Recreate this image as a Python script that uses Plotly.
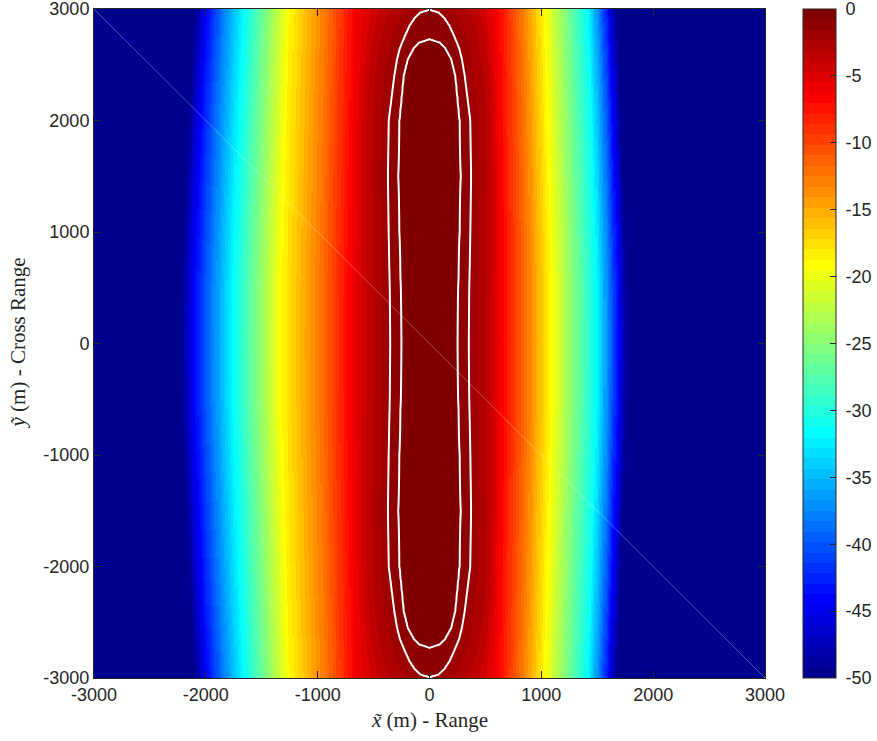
import numpy as np
import plotly.graph_objects as go

# ---------------- data ----------------
# peak level at x = 0 versus cross range |y| (m, symmetric in y)
peak_y = [0, 2600, 2730, 2995, 3000]
peak_db = [0.0, 0.0, -0.78125, -1.5625, -1.6]
# half widths (m) of the two near-centre levels (the white contours)
inner_level = -0.78125
inner_y = [0, 500, 1000, 1500, 2000, 2400, 2550, 2650, 2700, 2730]
inner_w = [252, 258, 270, 280, 270, 232, 195, 140, 90, 0]
outer_level = -1.5625
outer_y = [0, 500, 1000, 1500, 2000, 2400, 2550, 2650, 2700, 2750, 2850, 2925, 2975, 2995]
outer_w = [352, 356, 366, 372, 365, 315, 290, 265, 245, 225, 180, 130, 75, 0]
# half width (m) of the -3.5 dB level
mid_level = -3.5
mid_y = [0, 1000, 1500, 2000, 2400, 2700, 3000]
mid_w = [530, 540, 545, 540, 525, 490, 420]
# far levels: crossing distance (m) at y = 0, left (negative x) and right side
far_levels = [-6.25, -12.5, -18.75, -25, -31.25, -37.5, -43.75, -50]
left_far = [700, 985, 1320, 1530, 1745, 1935, 2100, 2230]
right_far = [640, 880, 1080, 1280, 1490, 1600, 1690, 1775]
# narrowing of the far levels towards the top/bottom edge
scale_y = [0, 500, 1000, 1500, 2000, 2500, 3000]
scale_v = [1.0, 0.998, 0.99, 0.98, 0.97, 0.958, 0.945]

x_ticks = [-3000, -2000, -1000, 0, 1000, 2000, 3000]
y_ticks = [-3000, -2000, -1000, 0, 1000, 2000, 3000]
cb_ticks = [0, -5, -10, -15, -20, -25, -30, -35, -40, -45, -50]

# ---------------- build the field ----------------
xg = np.arange(-3000, 3001, 10.0)
yg = np.arange(-3000, 3001, 10.0)
ax = np.abs(xg)


def side_profile(yy, far):
    xs = [0.0]
    zs = [float(np.interp(yy, peak_y, peak_db))]
    for lev, ly, lw in ((inner_level, inner_y, inner_w), (outer_level, outer_y, outer_w),
                        (mid_level, mid_y, mid_w)):
        if yy <= ly[-1]:
            w = float(np.interp(yy, ly, lw))
            if w > 1.0 and lev < zs[0]:
                xs.append(w)
                zs.append(lev)
    s = float(np.interp(yy, scale_y, scale_v))
    for lev, w in zip(far_levels, far):
        xs.append(w * s)
        zs.append(lev)
    xs.append(3100.0)
    zs.append(-50.0)
    return np.array(xs), np.array(zs)


Z = np.zeros((len(yg), len(xg)))
for i, yv in enumerate(yg):
    yy = abs(yv)
    xl, zl = side_profile(yy, left_far)
    xr, zr = side_profile(yy, right_far)
    Z[i] = np.where(xg < 0, np.interp(ax, xl, zl), np.interp(ax, xr, zr))
Z = np.round(Z, 3)


# ---------------- jet(64) colormap ----------------
def jet(m=64):
    n = int(np.ceil(m / 4))
    u = np.concatenate([np.arange(1, n + 1) / n, np.ones(n - 1), np.arange(n, 0, -1) / n])
    g = int(np.ceil(n / 2)) - (1 if m % 4 == 1 else 0) + np.arange(1, len(u) + 1)
    r = g + n
    b = g - n
    J = np.zeros((m, 3))
    for idx, val in zip(r, u):
        if 1 <= idx <= m:
            J[idx - 1, 0] = val
    for idx, val in zip(g, u):
        if 1 <= idx <= m:
            J[idx - 1, 1] = val
    for idx, val in zip(b, u):
        if 1 <= idx <= m:
            J[idx - 1, 2] = val
    return J


J = jet(64)
cscale = []
for k in range(64):
    c = "rgb(%d,%d,%d)" % tuple(np.round(J[k] * 255).astype(int))
    cscale.append([k / 64, c])
    cscale.append([(k + 1) / 64, c])

# ---------------- figure ----------------
axis_col = "#262626"
tick_font = dict(family="Liberation Sans, Arial, sans-serif", size=18, color=axis_col)

fig = go.Figure()
fig.add_trace(go.Heatmap(
    x=xg, y=yg, z=Z, zmin=-50, zmax=0, colorscale=cscale, zsmooth=False,
    hoverinfo="skip",
    colorbar=dict(
        x=(803 - 94) / 671, xanchor="left", xref="paper",
        y=0.5, yanchor="middle", len=1, lenmode="fraction",
        thickness=33, outlinewidth=1, outlinecolor=axis_col,
        ticks="inside", ticklen=6, tickcolor=axis_col,
        tickvals=cb_ticks, ticktext=["\u00a0" + str(v) for v in cb_ticks],
        tickfont=tick_font, xpad=0, ypad=0, ticklabeloverflow="allow",
    ),
))
fig.add_trace(go.Contour(
    x=xg, y=yg, z=Z, showscale=False, hoverinfo="skip",
    contours=dict(start=outer_level, end=inner_level, size=inner_level - outer_level,
                  coloring="none"),
    line=dict(color="white", width=2, smoothing=1.0),
))
# faint rendering diagonal seen in the reference
fig.add_trace(go.Scatter(
    x=[x_ticks[0], x_ticks[-1]], y=[y_ticks[-1], y_ticks[0]], mode="lines",
    line=dict(color="rgba(255,255,255,0.3)", width=1), hoverinfo="skip", showlegend=False,
))

axis_common = dict(
    showgrid=False, zeroline=False, showline=True, linecolor=axis_col, linewidth=1,
    mirror="ticks", ticks="inside", ticklen=7, tickcolor=axis_col, tickfont=tick_font,
    ticklabeloverflow="allow", automargin=False,
)
fig.update_xaxes(range=[-3000, 3000], tickvals=x_ticks, ticktext=[str(v) for v in x_ticks],
                 **axis_common)
fig.update_yaxes(range=[-3000, 3000], tickvals=y_ticks, ticktext=[str(v) for v in y_ticks],
                 **axis_common)

title_font = dict(family="Liberation Serif, Times New Roman, serif", size=21, color=axis_col)
fig.add_annotation(text="<i>x̃</i> (m) - Range", xref="paper", yref="paper", x=0.5, y=0,
                   yanchor="middle", yshift=-42, showarrow=False, font=title_font)
fig.add_annotation(text="<i>ỹ</i> (m) - Cross Range", xref="paper", yref="paper", x=0, y=0.5,
                   xanchor="center", xshift=-77, textangle=-90, showarrow=False, font=title_font)

fig.update_layout(
    width=877, height=741,
    margin=dict(l=94, r=112, t=9, b=63, autoexpand=False),
    paper_bgcolor="white", plot_bgcolor="white",
    showlegend=False,
)
fig.write_html("out.html")
